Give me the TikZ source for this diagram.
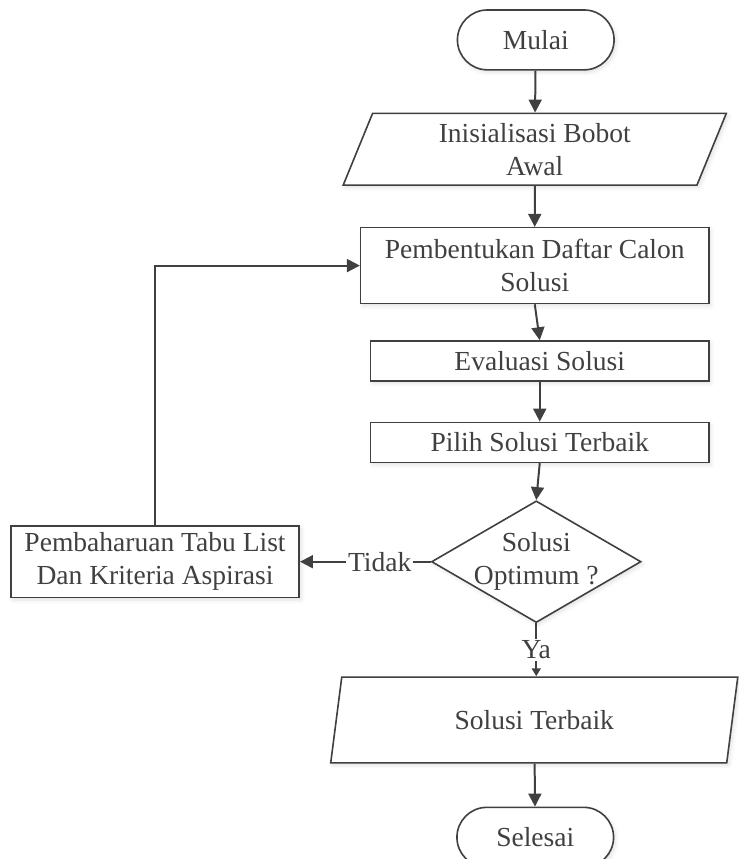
\documentclass[tikz,border=0pt]{standalone}
\usepackage{fontspec}
\setmainfont{Liberation Serif}
\usetikzlibrary{shapes.geometric,shapes.misc,arrows.meta,positioning,shadows.blur}
\definecolor{ink}{HTML}{404040}

\begin{document}
\begin{tikzpicture}[font=\fontsize{13.8}{16.5}\selectfont,text=ink,
  base/.style={draw=ink,line width=0.8pt,fill=white,align=center,inner sep=2pt,
    blur shadow={shadow xshift=1pt,shadow yshift=-1.2pt,shadow blur radius=2pt,shadow opacity=12}},
  term/.style={base,rounded rectangle,minimum width=82.5pt,minimum height=30pt},
  io/.style={base,trapezium,trapezium left angle=64,trapezium right angle=116,trapezium stretches body,minimum width=192pt,minimum height=36pt},
  proc/.style={base,rectangle,minimum height=20pt},
  dec/.style={base,diamond,aspect=1.72,minimum width=105pt,minimum height=61pt,inner sep=0pt},
  arr/.style={-{Triangle[length=6.5pt,width=6.5pt]},line width=1pt,ink},
  lbl/.style={fill=white,inner sep=1pt}]
\useasboundingbox (0,0) rectangle (370pt,-430.5pt);
\node[term] (start) at (268.5pt,-20pt) {Mulai};
\node[io,below=21pt of start,xshift=-0.5pt] (init) {Inisialisasi Bobot\\Awal};
\node[proc,minimum width=174.5pt,minimum height=38pt,below=20.5pt of init] (gen) {Pembentukan Daftar Calon\\Solusi};
\node[proc,minimum width=169.5pt,below=18pt of gen,xshift=2.5pt] (eval) {Evaluasi Solusi};
\node[proc,minimum width=169.5pt,below=20pt of eval] (best) {Pilih Solusi Terbaik};
\node[dec,below=18.5pt of best,xshift=-1.75pt] (check) {\makebox[0pt]{Solusi}\\\makebox[0pt]{Optimum ?}};
\node[proc,minimum width=144.5pt,minimum height=36pt,left=65.5pt of check] (update) {Pembaharuan Tabu List\\Dan Kriteria Aspirasi};
\node[io,trapezium left angle=68,trapezium right angle=112,minimum width=204pt,minimum height=43pt,below=26.5pt of check,xshift=-1pt] (result) {Solusi Terbaik};
\node[term,below=21.5pt of result,xshift=0.5pt] (stop) {Selesai};
% connectors
\draw[arr] (start) -- (init);
\draw[arr] (init) -- (gen);
\draw[arr] (gen.south) -- (eval.north);
\draw[arr] (eval) -- (best);
\draw[arr] (best.south) -- (check.north);
\draw[arr] (check) -- node[lbl,pos=0.39] (no) {Tidak} (update);
\draw[arr,-{Triangle[length=4pt,width=4.5pt]}] (check.south) -- node[lbl] (yes) {Ya} (check.south |- result.north);
\draw[arr] (result) -- (stop);
\draw[arr] (update.north) |- (gen.west);
\end{tikzpicture}
\end{document}
